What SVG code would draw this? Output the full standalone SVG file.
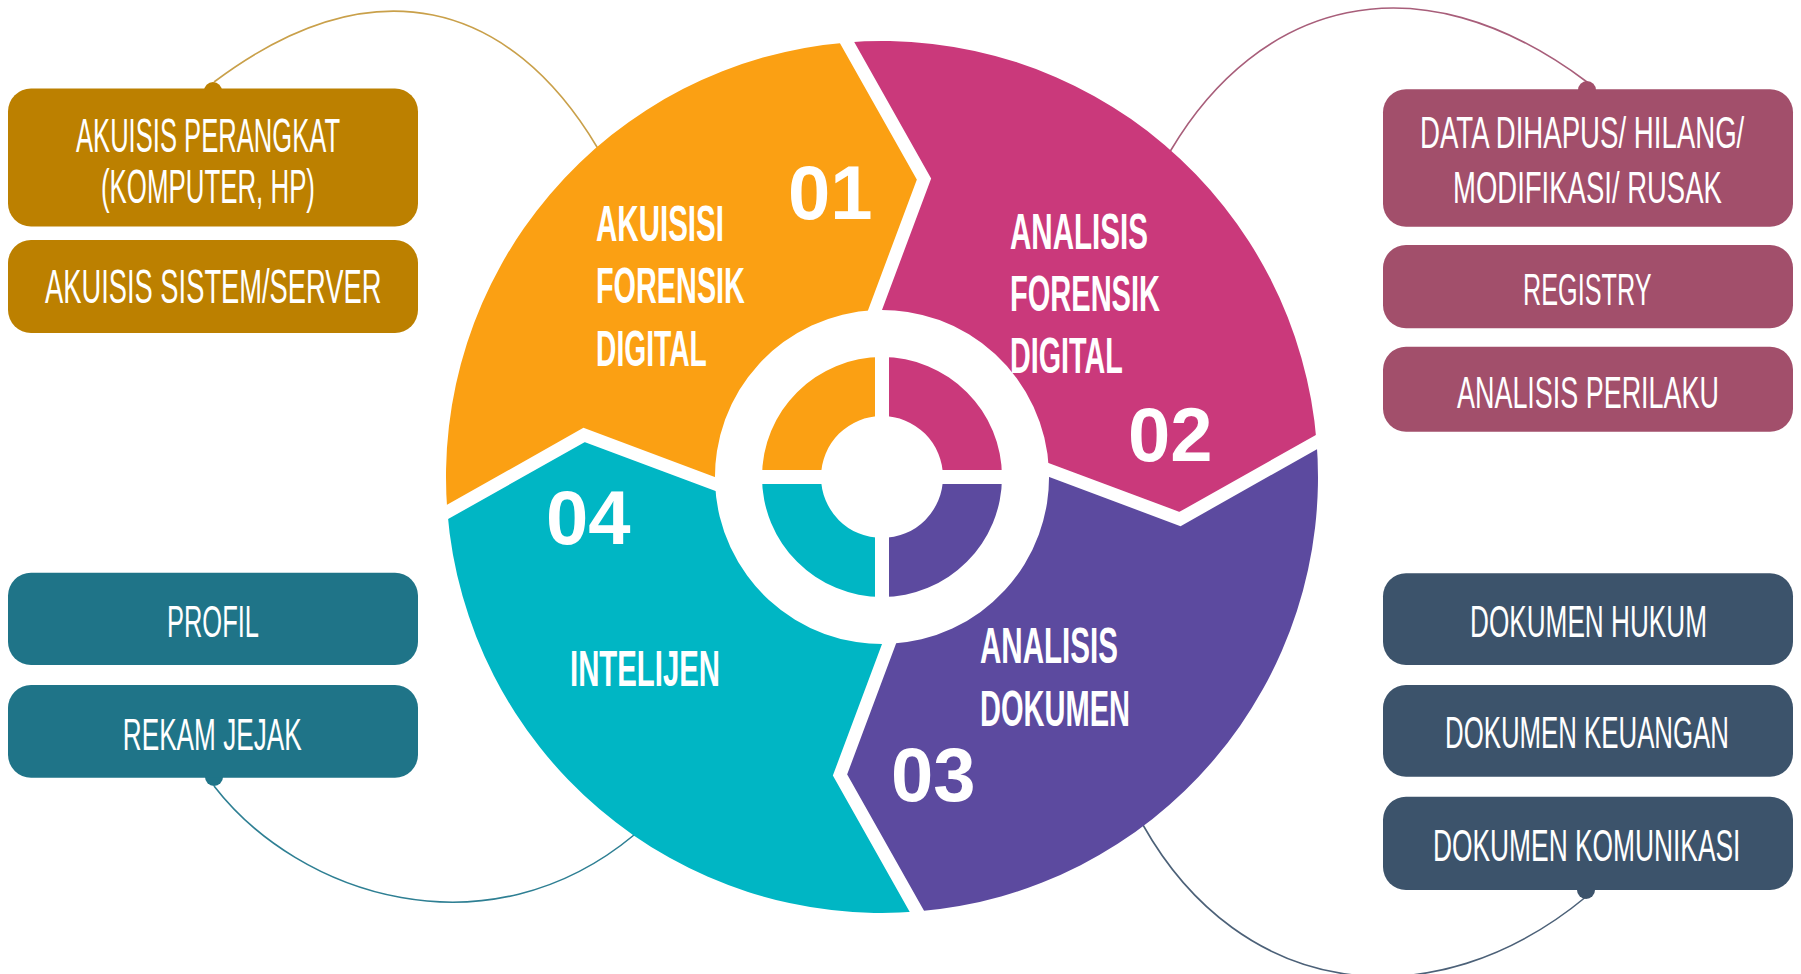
<svg xmlns="http://www.w3.org/2000/svg" width="1801" height="974" viewBox="0 0 1801 974">
<style>
.bt{font-family:"Liberation Sans",Arial,sans-serif;font-weight:400;fill:#fff}
.lt{font-family:"Liberation Sans",Arial,sans-serif;font-weight:700;fill:#fff;font-size:50px}
.num{font-family:"Liberation Sans",Arial,sans-serif;font-weight:700;fill:#fff;font-size:76px}
.gap{fill:none;stroke:#fff;stroke-width:13;stroke-linejoin:miter}
.con{fill:none;stroke-width:1.6}
</style>
<rect width="1801" height="974" fill="#fff"/>
<g id="connectors">
<path class="con" stroke="#C9A04A" d="M214,82 C374,-38 510,1.8 597,147 L603,157"/>
<path class="con" stroke="#A85E7A" d="M1587,82 C1415,-47 1257.7,3.8 1171,150 L1166,159"/>
<path class="con" stroke="#2E7F93" d="M214,786 C299.4,896.6 487.7,956.6 634,835 L642,828"/>
<path class="con" stroke="#4C6178" d="M1138,816 L1143,825 C1241,999 1433,1024 1587,896"/>
</g>
<g id="cycle">
<g id="seg-01"><path fill="#FBA013" d="M447.4,512 A436,436 0 0 1 847.03,42.4 L924,179 L875,310.1 A167,167 0 0 0 715.1,484 L584,435 Z"/></g>
<g id="seg-02"><path fill="#CA397B" transform="rotate(90 882 477)" d="M447.4,512 A436,436 0 0 1 847.03,42.4 L924,179 L875,310.1 A167,167 0 0 0 715.1,484 L584,435 Z"/></g>
<g id="seg-03"><path fill="#5C4A9F" transform="rotate(180 882 477)" d="M447.4,512 A436,436 0 0 1 847.03,42.4 L924,179 L875,310.1 A167,167 0 0 0 715.1,484 L584,435 Z"/></g>
<g id="seg-04"><path fill="#00B6C4" transform="rotate(270 882 477)" d="M447.4,512 A436,436 0 0 1 847.03,42.4 L924,179 L875,310.1 A167,167 0 0 0 715.1,484 L584,435 Z"/></g>
<g id="gaps">
<polyline class="gap" points="842.1,33.7 924,179 871.5,319.5"/>
<polyline class="gap" transform="rotate(90 882 477)" points="842.1,33.7 924,179 871.5,319.5"/>
<polyline class="gap" transform="rotate(180 882 477)" points="842.1,33.7 924,179 871.5,319.5"/>
<polyline class="gap" transform="rotate(270 882 477)" points="842.1,33.7 924,179 871.5,319.5"/>
</g>
<g id="hub">
<path fill="#FBA013" d="M762,477 A120,120 0 0 1 882,357 L882,416 A61,61 0 0 0 821,477 Z"/>
<path fill="#CA397B" d="M882,357 A120,120 0 0 1 1002,477 L943,477 A61,61 0 0 0 882,416 Z"/>
<path fill="#5C4A9F" d="M1002,477 A120,120 0 0 1 882,597 L882,538 A61,61 0 0 0 943,477 Z"/>
<path fill="#00B6C4" d="M882,597 A120,120 0 0 1 762,477 L821,477 A61,61 0 0 0 882,538 Z"/>
<path d="M752,477 H1012 M882,347 V607" stroke="#fff" stroke-width="14" fill="none"/>
</g>
<g id="labels">
<text class="lt" transform="translate(596 241) scale(0.5907 1)">AKUISISI</text>
<text class="lt" transform="translate(596 302.7) scale(0.5767 1)">FORENSIK</text>
<text class="lt" transform="translate(596 365.8) scale(0.565 1)">DIGITAL</text>
<text class="num" x="788" y="219.4">01</text>
<text class="lt" transform="translate(1010 249.3) scale(0.5914 1)">ANALISIS</text>
<text class="lt" transform="translate(1010 311) scale(0.5806 1)">FORENSIK</text>
<text class="lt" transform="translate(1010 373.3) scale(0.575 1)">DIGITAL</text>
<text class="num" x="1128" y="460.5">02</text>
<text class="lt" transform="translate(980 663) scale(0.5914 1)">ANALISIS</text>
<text class="lt" transform="translate(980 725.8) scale(0.5807 1)">DOKUMEN</text>
<text class="num" x="891" y="801">03</text>
<text class="lt" transform="translate(570 685.6) scale(0.5869 1)">INTELIJEN</text>
<text class="num" x="546" y="543.8">04</text>
</g>
</g>
<g id="box-akuisis-perangkat">
<circle cx="213" cy="91" r="9" fill="#BC8000"/>
<rect x="8" y="88.5" width="410" height="138" rx="23" fill="#BC8000"/>
<text class="bt" font-size="48" transform="translate(76 151.5) scale(0.5333 1)">AKUISIS PERANGKAT</text>
<text class="bt" font-size="48" transform="translate(101 202.7) scale(0.5386 1)">(KOMPUTER, HP)</text>
</g>
<g id="box-akuisis-sistem">
<rect x="8" y="240" width="410" height="93" rx="23" fill="#BC8000"/>
<text class="bt" font-size="48" transform="translate(45 303.3) scale(0.5691 1)">AKUISIS SISTEM/SERVER</text>
</g>
<g id="box-data-dihapus">
<circle cx="1587" cy="90" r="9" fill="#A24F6B"/>
<rect x="1383" y="89.3" width="410" height="137.4" rx="23" fill="#A24F6B"/>
<text class="bt" font-size="45" transform="translate(1420 148.3) scale(0.6138 1)">DATA DIHAPUS/ HILANG/</text>
<text class="bt" font-size="45" transform="translate(1453 202.7) scale(0.6112 1)">MODIFIKASI/ RUSAK</text>
</g>
<g id="box-registry">
<rect x="1383" y="245" width="410" height="83.3" rx="23" fill="#A24F6B"/>
<text class="bt" font-size="45" transform="translate(1523 305) scale(0.5608 1)">REGISTRY</text>
</g>
<g id="box-analisis-perilaku">
<rect x="1383" y="346.7" width="410" height="85" rx="23" fill="#A24F6B"/>
<text class="bt" font-size="45" transform="translate(1457 408.3) scale(0.5986 1)">ANALISIS PERILAKU</text>
</g>
<g id="box-profil">
<rect x="8" y="572.7" width="410" height="92.3" rx="23" fill="#1F7488"/>
<text class="bt" font-size="45" transform="translate(167 637.3) scale(0.566 1)">PROFIL</text>
</g>
<g id="box-rekam-jejak">
<circle cx="214" cy="777" r="9" fill="#1F7488"/>
<rect x="8" y="685" width="410" height="92.7" rx="23" fill="#1F7488"/>
<text class="bt" font-size="45" transform="translate(122.8 750) scale(0.582 1)">REKAM JEJAK</text>
</g>
<g id="box-dokumen-hukum">
<rect x="1383" y="573.3" width="410" height="91.7" rx="23" fill="#3C536B"/>
<text class="bt" font-size="45" transform="translate(1470 636.7) scale(0.5816 1)">DOKUMEN HUKUM</text>
</g>
<g id="box-dokumen-keuangan">
<rect x="1383" y="685" width="410" height="91.7" rx="23" fill="#3C536B"/>
<text class="bt" font-size="45" transform="translate(1445 748.3) scale(0.5737 1)">DOKUMEN KEUANGAN</text>
</g>
<g id="box-dokumen-komunikasi">
<circle cx="1586" cy="890" r="9" fill="#3C536B"/>
<rect x="1383" y="796.7" width="410" height="93.3" rx="23" fill="#3C536B"/>
<text class="bt" font-size="45" transform="translate(1433 860.7) scale(0.5857 1)">DOKUMEN KOMUNIKASI</text>
</g>
</svg>
